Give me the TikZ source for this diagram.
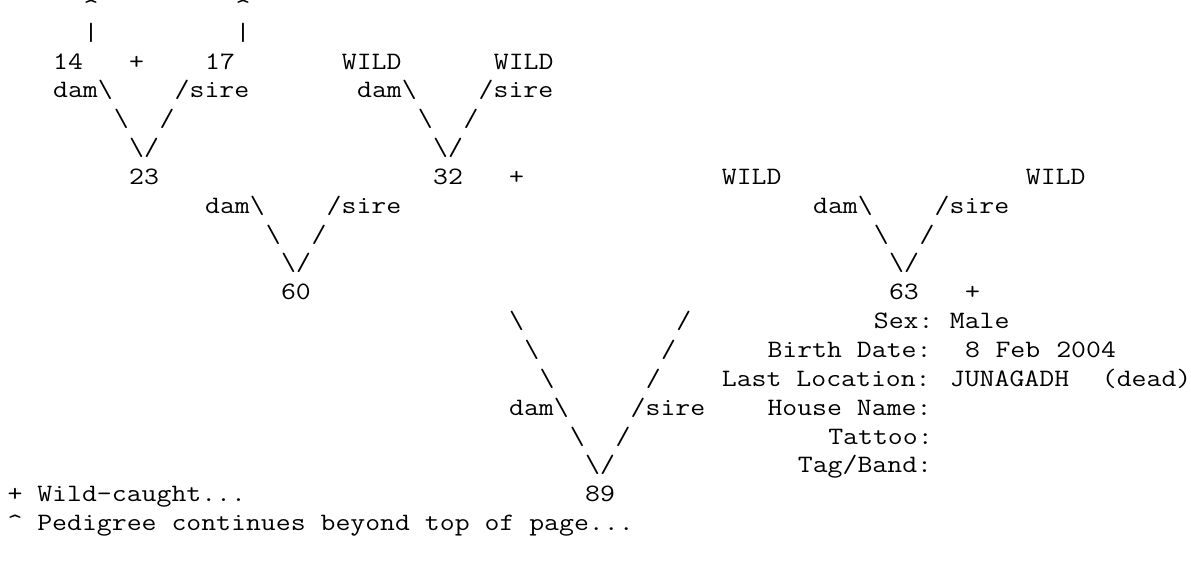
\documentclass[tikz,border=0pt]{standalone}
\usepackage{graphicx}
\tikzset{
  txt/.style={inner sep=0pt, outer sep=0pt, anchor=base west,
    font=\ttfamily\fontsize{25}{28.85}\selectfont, text=black},
  caret/.style={yshift=-4.5pt}
}
\newcommand\bs{\textbackslash}
\newcommand\ptx[5][]{\node[txt,#1] (#2) at ({7.5+#3*15.2},{11.3+#4*28.85}) {\scalebox{1.158}[1]{#5}};}
\begin{document}
\begin{tikzpicture}[x=1pt,y=-1pt]
\useasboundingbox (0,0) rectangle (1191,563);
\fill[white] (0,0) rectangle (1191,563);
% row 0-1: continuation marks
\ptx[caret]{c0a}{5}{0}{\textasciicircum}
\ptx[caret]{c0b}{15}{0}{\textasciicircum}
\ptx{c1a}{5}{1}{|}
\ptx{c1b}{15}{1}{|}
% row 2
\ptx{n14}{3}{2}{14}
\ptx{p1}{8}{2}{+}
\ptx{n17}{13}{2}{17}
\ptx{w1}{22}{2}{WILD}
\ptx{w2}{32}{2}{WILD}
% row 3
\ptx{d1}{3}{3}{dam\bs}
\ptx{s1}{11}{3}{/sire}
\ptx{d2}{23}{3}{dam\bs}
\ptx{s2}{31}{3}{/sire}
% row 4
\ptx{a4}{7}{4}{\bs}
\ptx{b4}{10}{4}{/}
\ptx{e4}{27}{4}{\bs}
\ptx{f4}{30}{4}{/}
% row 5
\ptx{v1}{8}{5}{\bs/}
\ptx{v2}{28}{5}{\bs/}
% row 6
\ptx{n23}{8}{6}{23}
\ptx{n32}{28}{6}{32}
\ptx{p2}{33}{6}{+}
\ptx{w3}{47}{6}{WILD}
\ptx{w4}{67}{6}{WILD}
% row 7
\ptx{d3}{13}{7}{dam\bs}
\ptx{s3}{21}{7}{/sire}
\ptx{d4}{53}{7}{dam\bs}
\ptx{s4}{61}{7}{/sire}
% row 8
\ptx{a8}{17}{8}{\bs}
\ptx{b8}{20}{8}{/}
\ptx{e8}{57}{8}{\bs}
\ptx{f8}{60}{8}{/}
% row 9
\ptx{v3}{18}{9}{\bs/}
\ptx{v4}{58}{9}{\bs/}
% row 10
\ptx{n60}{18}{10}{60}
\ptx{n63}{58}{10}{63}
\ptx{p3}{63}{10}{+}
% rows 11-16: big V and info block
\ptx{a11}{33}{11}{\bs}
\ptx{b11}{44}{11}{/}
\ptx{l11}{57}{11}{Sex:}
\ptx{v11}{62}{11}{Male}
\ptx{a12}{34}{12}{\bs}
\ptx{b12}{43}{12}{/}
\ptx{l12}{50}{12}{Birth Date:}
\ptx{v12a}{63}{12}{8}
\ptx{v12b}{65}{12}{Feb}
\ptx{v12c}{69}{12}{2004}
\ptx{a13}{35}{13}{\bs}
\ptx{b13}{42}{13}{/}
\ptx{l13}{47}{13}{Last Location:}
\ptx{v13a}{62}{13}{JUNAGADH}
\ptx{v13b}{72}{13}{(dead)}
\ptx{d5}{33}{14}{dam\bs}
\ptx{s5}{41}{14}{/sire}
\ptx{l14}{50}{14}{House Name:}
\ptx{a15}{37}{15}{\bs}
\ptx{b15}{40}{15}{/}
\ptx{l15}{54}{15}{Tattoo:}
\ptx{v5}{38}{16}{\bs/}
\ptx{l16}{52}{16}{Tag/Band:}
% row 17-18
\ptx{leg1}{0}{17}{+ Wild-caught...}
\ptx{n89}{38}{17}{89}
\ptx{leg2}{0}{18}{\textasciicircum{} Pedigree continues beyond top of page...}
\end{tikzpicture}
\end{document}
